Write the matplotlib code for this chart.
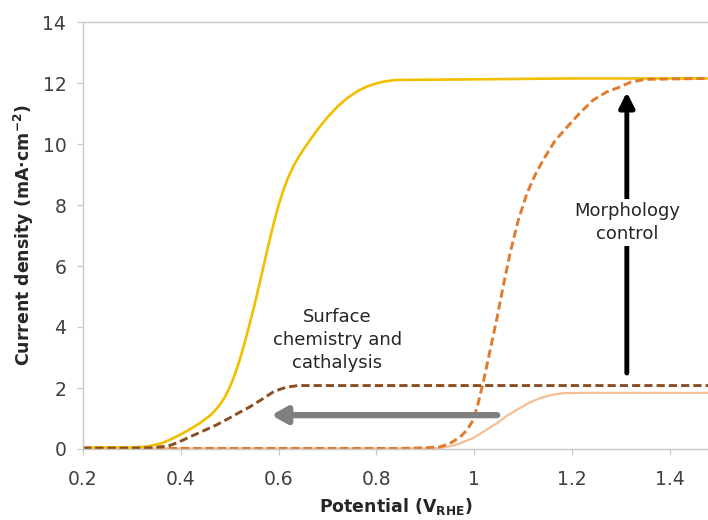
import matplotlib
matplotlib.use("Agg")
import matplotlib.pyplot as plt

# gold solid curve (fast kinetics, high limiting current)
gold_x = [0.2, 0.3, 0.33, 0.36, 0.38, 0.40, 0.42, 0.44, 0.46, 0.47, 0.48, 0.49, 0.50,
          0.51, 0.52, 0.53, 0.54, 0.55, 0.56, 0.57, 0.58, 0.59, 0.60, 0.61, 0.62, 0.63,
          0.64, 0.65, 0.665, 0.68, 0.70, 0.72, 0.74, 0.76, 0.78, 0.80, 0.82, 0.84,
          1.0, 1.2, 1.478]
gold_y = [0.05, 0.05, 0.08, 0.18, 0.32, 0.48, 0.66, 0.86, 1.1, 1.26, 1.45, 1.7, 2.02,
          2.42, 2.9, 3.45, 4.05, 4.68, 5.35, 6.05, 6.75, 7.4, 8.0, 8.5, 8.92, 9.26,
          9.55, 9.8, 10.15, 10.48, 10.88, 11.22, 11.5, 11.72, 11.88, 11.99, 12.06, 12.1,
          12.12, 12.15, 12.15]

# dark brown dashed curve
brown_x = [0.2, 0.3, 0.34, 0.375, 0.395, 0.416, 0.44, 0.473, 0.5, 0.52, 0.541, 0.565,
           0.589, 0.605, 0.617, 0.64, 1.478]
brown_y = [0.03, 0.03, 0.04, 0.1, 0.22, 0.38, 0.55, 0.79, 1.02, 1.2, 1.38, 1.62,
           1.87, 1.97, 2.03, 2.08, 2.08]

# orange dashed curve
orange_x = [0.2, 0.85, 0.90, 0.93, 0.95, 0.971, 0.985, 0.998, 1.008, 1.018, 1.032, 1.047,
            1.06, 1.073, 1.09, 1.108, 1.125, 1.141, 1.165, 1.19, 1.215, 1.243, 1.27, 1.298,
            1.32, 1.35, 1.478]
orange_y = [0.02, 0.02, 0.04, 0.07, 0.18, 0.39, 0.62, 0.95, 1.5, 2.16, 3.2, 4.33,
            5.4, 6.4, 7.5, 8.39, 9.0, 9.48, 10.1, 10.56, 11.0, 11.44, 11.7, 11.87,
            12.03, 12.12, 12.15]

# light peach solid curve
peach_x = [0.2, 0.9, 0.93, 0.96, 0.998, 1.02, 1.047, 1.065, 1.087, 1.11, 1.135, 1.16,
           1.182, 1.22, 1.478]
peach_y = [0.02, 0.02, 0.03, 0.12, 0.36, 0.58, 0.85, 1.07, 1.28, 1.5, 1.67, 1.78,
           1.83, 1.84, 1.84]

x_ticks = [0.2, 0.4, 0.6, 0.8, 1.0, 1.2, 1.4]
x_tick_labels = ["0.2", "0.4", "0.6", "0.8", "1", "1.2", "1.4"]
y_ticks = [0, 2, 4, 6, 8, 10, 12, 14]

fig = plt.figure(figsize=(7.08, 5.2), dpi=100)
ax = fig.add_axes([83 / 708, 71 / 520, 625 / 708, 427 / 520])

ax.plot(peach_x, peach_y, color="#F6BE93", lw=1.6, solid_capstyle="round")
ax.plot(gold_x, gold_y, color="#F2BE00", lw=1.9)
ax.plot(orange_x, orange_y, color="#E07A2C", lw=2.1, dashes=(2.8, 1.4))
ax.plot(brown_x, brown_y, color="#8A4E22", lw=2.1, dashes=(2.8, 1.4))

# grey arrow: surface chemistry shift
ax.annotate("", xy=(0.585, 1.11), xytext=(1.047, 1.11),
            arrowprops=dict(arrowstyle="-|>,head_length=0.9,head_width=0.5",
                            color="#7F7F7F", lw=4.5, shrinkA=0, shrinkB=0))
ax.text(0.72, 3.57, "Surface\nchemistry and\ncathalysis", ha="center", va="center",
        fontsize=13, color="#262626", linespacing=1.38)

# black arrow: morphology control
ax.annotate("", xy=(1.312, 11.7), xytext=(1.312, 2.49),
            arrowprops=dict(arrowstyle="-|>,head_length=0.9,head_width=0.45",
                            color="black", lw=3.5, shrinkA=0, shrinkB=0))
ax.text(1.312, 7.43, "Morphology\ncontrol", ha="center", va="center",
        fontsize=13, color="#262626", linespacing=1.38,
        bbox=dict(facecolor="white", edgecolor="none", pad=2))

ax.set_xlim(0.2, 1.478)
ax.set_ylim(0, 14)
ax.set_xticks(x_ticks)
ax.set_xticklabels(x_tick_labels)
ax.set_yticks(y_ticks)

for side in ["left", "bottom", "top"]:
    ax.spines[side].set_color("#C8C8C8")
    ax.spines[side].set_linewidth(1.0)
ax.spines["right"].set_visible(False)
ax.tick_params(axis="both", colors="#C8C8C8", labelcolor="#404040",
               labelsize=13.5, length=4)
ax.tick_params(axis="x", pad=11)
ax.tick_params(axis="y", pad=8)

ax.set_xlabel("Potential (V$_{\\mathbf{RHE}}$)", fontsize=12.5, fontweight="bold",
              color="#262626", labelpad=5)
ax.set_ylabel("Current density (mA·cm$^{\\mathbf{-2}}$)", fontsize=12.5,
              fontweight="bold", color="#262626", labelpad=5)

fig.savefig("out.png", dpi=100)
